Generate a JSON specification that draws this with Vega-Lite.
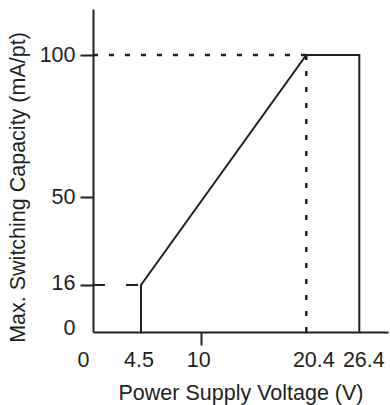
{
  "$schema": "https://vega.github.io/schema/vega-lite/v6.json",
  "width": 295,
  "height": 323,
  "autosize": "none",
  "padding": {"left": 93, "top": 9, "right": 2, "bottom": 73},
  "background": "white",
  "config": {"view": {"stroke": null}, "font": "Liberation Sans"},
  "data": {"values": [
    {"series": "limit", "order": 1, "v": 4.5, "c": 0},
    {"series": "limit", "order": 2, "v": 4.5, "c": 16},
    {"series": "limit", "order": 3, "v": 20.4, "c": 100},
    {"series": "limit", "order": 4, "v": 26.4, "c": 100},
    {"series": "limit", "order": 5, "v": 26.4, "c": 0},
    {"series": "min", "order": 1, "v": 0, "c": 16},
    {"series": "min", "order": 2, "v": 4.5, "c": 16},
    {"series": "maxh", "order": 1, "v": 0, "c": 100},
    {"series": "maxh", "order": 2, "v": 20.4, "c": 100},
    {"series": "maxv", "order": 1, "v": 20.4, "c": 100},
    {"series": "maxv", "order": 2, "v": 20.4, "c": 0}
  ]},
  "encoding": {
    "x": {
      "field": "v", "type": "quantitative",
      "title": "Power Supply Voltage (V)",
      "scale": {"domain": [0, 4.5, 10, 20.4, 26.4, 29], "range": [0, 48, 107.7, 213.3, 266.3, 295], "nice": false, "zero": false},
      "axis": {
        "values": [0, 4.5, 10, 20.4, 26.4],
        "labelExpr": "'' + datum.value",
        "grid": false,
        "domainColor": "#231f20", "domainWidth": 2,
        "tickColor": "#231f20", "tickWidth": 2, "tickSize": 13,
        "tickOpacity": {"condition": {"test": "datum.value == 10", "value": 1}, "value": 0},
        "labelFontSize": 21.5, "labelColor": "#231f20", "labelPadding": 4,
        "labelOffset": {"condition": [
          {"test": "datum.value == 0", "value": -10},
          {"test": "datum.value == 20.4", "value": 7},
          {"test": "datum.value == 26.4", "value": 4}
        ], "value": -2.5},
        "labelFlush": false, "labelOverlap": false, "labelBound": false,
        "titleFontSize": 21.5, "titleFontWeight": "normal", "titleColor": "#231f20",
        "titleBaseline": "alphabetic", "titleY": 67
      }
    },
    "y": {
      "field": "c", "type": "quantitative",
      "title": "Max. Switching Capacity (mA/pt)",
      "scale": {"domain": [0, 16, 50, 100, 117], "range": [323, 276, 188, 46, 0], "nice": false, "zero": false},
      "axis": {
        "values": [0, 16, 50, 100],
        "labelExpr": "'' + datum.value",
        "grid": false,
        "domainColor": "#231f20", "domainWidth": 2,
        "tickColor": "#231f20", "tickWidth": 2, "tickSize": 13,
        "tickOpacity": {"condition": {"test": "datum.value == 0", "value": 0}, "value": 1},
        "labelFontSize": 21.5, "labelColor": "#231f20", "labelPadding": 5,
        "labelOffset": {"condition": [
          {"test": "datum.value == 0", "value": -4},
          {"test": "datum.value == 16", "value": -2}
        ], "value": 0},
        "labelFlush": false, "labelOverlap": false, "labelBound": false,
        "titleFontSize": 21.5, "titleFontWeight": "normal", "titleColor": "#231f20",
        "titleAngle": -90, "titleAlign": "center", "titleBaseline": "middle",
        "titleX": -75, "titleY": 178
      }
    },
    "order": {"field": "order", "type": "quantitative"},
    "detail": {"field": "series", "type": "nominal"}
  },
  "layer": [
    {
      "transform": [{"filter": "datum.series == 'limit'"}],
      "mark": {"type": "line", "color": "#231f20", "strokeWidth": 2, "strokeJoin": "miter"}
    },
    {
      "transform": [{"filter": "datum.series == 'min'"}],
      "mark": {"type": "line", "color": "#231f20", "strokeWidth": 2, "strokeDash": [12, 21]}
    },
    {
      "transform": [{"filter": "datum.series == 'maxh' || datum.series == 'maxv'"}],
      "mark": {"type": "line", "color": "#231f20", "strokeWidth": 2.5, "strokeDash": [5, 11]}
    }
  ]
}
